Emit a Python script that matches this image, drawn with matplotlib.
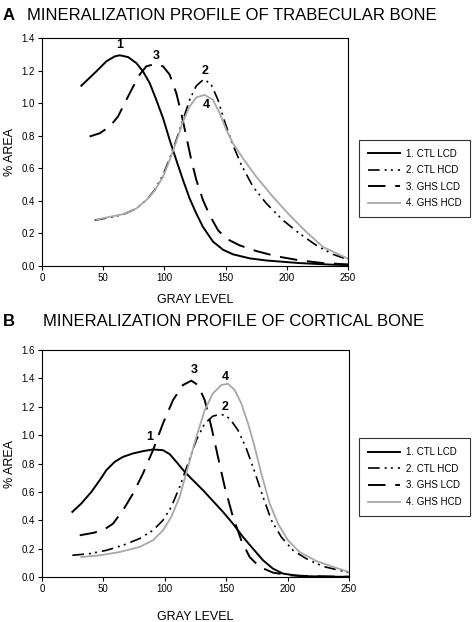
import matplotlib
matplotlib.use("Agg")
import matplotlib.pyplot as plt

plt.rcParams['font.family'] = ['Liberation Sans', 'DejaVu Sans']

# --- Panel A: trabecular bone (gray level, % area) ---
a1_x = [32.1, 44.4, 52.6, 59.4, 63.5, 70.3, 77.1, 82.5, 88, 93.4, 98.9, 104.3, 109.7, 115.2,
        120.6, 126.1, 131.5, 139.7, 147.9, 156, 169.7, 183.3, 210.5, 237.7, 250]
a1_y = [1.107, 1.195, 1.257, 1.287, 1.294, 1.283, 1.246, 1.195, 1.123, 1.02, 0.908, 0.774, 0.651,
        0.528, 0.415, 0.322, 0.24, 0.15, 0.1, 0.072, 0.047, 0.034, 0.018, 0.008, 0.006]
a2_x = [43, 55.3, 66.2, 77.1, 85.2, 92, 98.9, 104.3, 109.7, 115.2, 120.6, 126.1, 132.4, 138.3,
        143.8, 149.2, 156, 162.9, 172.4, 183.3, 196.9, 210.5, 224.1, 237.7, 250]
a2_y = [0.281, 0.298, 0.316, 0.353, 0.405, 0.466, 0.559, 0.661, 0.774, 0.897, 1.02, 1.107, 1.148,
        1.113, 1.02, 0.887, 0.743, 0.62, 0.487, 0.384, 0.281, 0.199, 0.127, 0.072, 0.039]
a3_x = [38.9, 47.1, 55.3, 62.1, 68.9, 74.3, 79.8, 85.2, 92, 98.9, 104.3, 109.7, 113.8, 117.9,
        122, 126.1, 131.5, 137, 143.8, 150.6, 161.5, 175.1, 191.4, 210.5, 229.6, 250]
a3_y = [0.795, 0.815, 0.856, 0.918, 1.02, 1.099, 1.175, 1.226, 1.24, 1.226, 1.175, 1.062, 0.938,
        0.795, 0.651, 0.528, 0.405, 0.312, 0.22, 0.168, 0.127, 0.092, 0.06, 0.035, 0.018, 0.01]
a4_x = [44.4, 55.3, 66.2, 77.1, 85.2, 92, 98.9, 104.3, 109.7, 115.2, 120.6, 126.1, 132.9, 139.7,
        145.2, 150.6, 156, 164.2, 175.1, 188.7, 202.3, 216, 229.6, 250]
a4_y = [0.285, 0.302, 0.318, 0.353, 0.405, 0.462, 0.548, 0.651, 0.764, 0.887, 0.979, 1.035, 1.051,
        1.02, 0.938, 0.836, 0.754, 0.661, 0.548, 0.425, 0.312, 0.209, 0.117, 0.045]

# --- Panel B: cortical bone ---
b1_x = [24.7, 32, 40.2, 47, 52.4, 59.2, 66, 74.1, 82.2, 90.4, 98.5, 104, 109.4, 116.2, 123,
        131.1, 139.2, 147.4, 155.5, 163.7, 171.8, 180, 188.1, 196.3, 209.8, 237, 250]
b1_y = [0.459, 0.518, 0.6, 0.682, 0.753, 0.812, 0.847, 0.871, 0.887, 0.899, 0.894, 0.866, 0.812,
        0.741, 0.682, 0.612, 0.536, 0.459, 0.376, 0.282, 0.2, 0.118, 0.059, 0.024, 0.007, 0.002, 0.002]
b2_x = [24.7, 38.8, 52.4, 66, 79.5, 90.4, 98.5, 105.3, 112.1, 118.9, 125.7, 132.5, 139.2, 146,
        152.8, 159.6, 166.4, 173.2, 180, 186.8, 194.9, 204.4, 215.3, 228.8, 250]
b2_y = [0.153, 0.165, 0.188, 0.224, 0.271, 0.329, 0.4, 0.494, 0.635, 0.8, 0.965, 1.082, 1.134,
        1.148, 1.118, 1.035, 0.906, 0.741, 0.565, 0.4, 0.282, 0.188, 0.129, 0.075, 0.031]
b3_x = [30.7, 41.5, 49.7, 57.8, 66, 74.1, 82.2, 90.4, 98.5, 106.7, 114.8, 121.6, 127, 132.5,
        137.9, 143.3, 148.8, 155.5, 162.3, 169.1, 177.3, 188.1, 201.7, 223.4, 250]
b3_y = [0.294, 0.311, 0.329, 0.376, 0.471, 0.588, 0.729, 0.894, 1.082, 1.247, 1.353, 1.384, 1.353,
        1.247, 1.059, 0.847, 0.635, 0.424, 0.259, 0.141, 0.071, 0.031, 0.012, 0.005, 0.002]
b4_x = [32, 47, 63.2, 79.5, 90.4, 98.5, 105.3, 112.1, 118.9, 125.7, 132.5, 139.2, 146, 151.5,
        156.9, 162.3, 167.8, 173.2, 178.6, 185.4, 192.2, 200.3, 209.8, 223.4, 237, 250]
b4_y = [0.141, 0.153, 0.176, 0.212, 0.259, 0.329, 0.424, 0.565, 0.776, 0.988, 1.176, 1.294, 1.353,
        1.362, 1.318, 1.224, 1.082, 0.918, 0.729, 0.518, 0.376, 0.259, 0.176, 0.113, 0.072, 0.035]

legend_labels = ["1. CTL LCD", "2. CTL HCD", "3. GHS LCD", "4. GHS HCD"]

styles = [
    dict(color='black', lw=1.4, ls='-'),
    dict(color='black', lw=1.2, ls=(0, (7, 3, 1.2, 2.5, 1.2, 3))),
    dict(color='black', lw=1.4, ls=(0, (9, 5))),
    dict(color='#a8a8a8', lw=1.3, ls='-'),
]

fig = plt.figure(figsize=(4.73, 6.22), dpi=100)


def panel(rect, series, ymax, labels, legend_box, xlabelpad):
    ax = fig.add_axes(rect)
    lines = []
    for (x, y), st in zip(series, styles):
        ln, = ax.plot(x, y, solid_joinstyle='round', dash_joinstyle='round', **st)
        lines.append(ln)
    ax.set_xlim(0, 250)
    ax.set_ylim(0, ymax)
    ax.set_xticks([0, 50, 100, 150, 200, 250])
    n = int(round(ymax / 0.2)) + 1
    ax.set_yticks([i * 0.2 for i in range(n)])
    ax.set_yticklabels([f"{i * 0.2:.1f}" for i in range(n)])
    ax.tick_params(direction='out', length=3, width=0.8, labelsize=7, pad=2)
    for s in ax.spines.values():
        s.set_linewidth(0.8)
    ax.set_xlabel("GRAY LEVEL", fontsize=9, labelpad=xlabelpad)
    ax.set_ylabel("% AREA", fontsize=9, labelpad=4)
    for txt, lx, ly in labels:
        ax.text(lx, ly, txt, fontsize=9, fontweight='bold', ha='center', va='center')
    leg = fig.legend(lines, legend_labels, loc='center', bbox_to_anchor=legend_box,
                     fontsize=7, frameon=True, fancybox=False, edgecolor='black',
                     handlelength=3.3, handletextpad=0.6, labelspacing=0.68,
                     borderpad=0.9)
    leg.get_frame().set_linewidth(0.8)
    return ax


panel([0.0888, 0.5723, 0.6469, 0.3666],
      [(a1_x, a1_y), (a2_x, a2_y), (a3_x, a3_y), (a4_x, a4_y)], 1.4,
      [("1", 63.5, 1.36), ("3", 93, 1.29), ("2", 133, 1.2), ("4", 134, 0.99)],
      (0.757, 0.646, 0.239, 0.134), 8)

panel([0.0888, 0.0723, 0.6490, 0.3650],
      [(b1_x, b1_y), (b2_x, b2_y), (b3_x, b3_y), (b4_x, b4_y)], 1.6,
      [("1", 87.7, 0.99), ("3", 124, 1.46), ("4", 149, 1.41), ("2", 149, 1.2)],
      (0.757, 0.166, 0.239, 0.134), 12)

fig.text(3 / 473, 1 - 15 / 622, "A", fontsize=12, fontweight='bold', va='center')
fig.text(27 / 473, 1 - 15 / 622, "MINERALIZATION PROFILE OF TRABECULAR BONE", fontsize=12, va='center')
fig.text(3 / 473, 1 - 322 / 622, "B", fontsize=12, fontweight='bold', va='center')
fig.text(43 / 473, 1 - 322 / 622, "MINERALIZATION PROFILE OF CORTICAL BONE", fontsize=12, va='center')

fig.savefig("out.png", dpi=100)
